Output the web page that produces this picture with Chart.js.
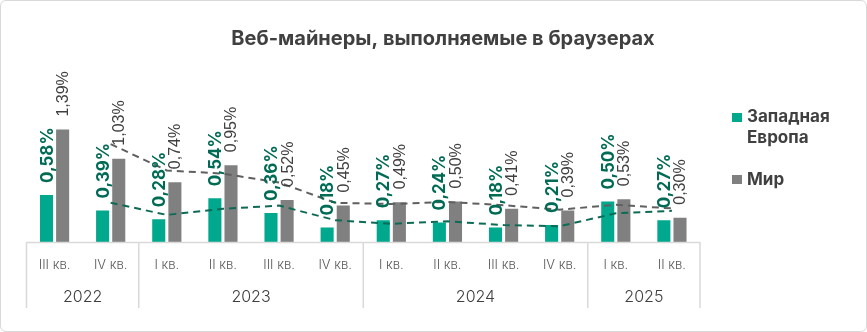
<!DOCTYPE html>
<html>
<head>
<meta charset="utf-8">
<script src="https://cdn.jsdelivr.net/npm/chart.js@4.4.0/dist/chart.umd.min.js"></script>
<style>
    html, body { margin: 0; padding: 0; background: #fff; }
    #frame {
        position: absolute; left: 0; top: 0;
        width: 867px; height: 332px; box-sizing: border-box;
        border: 1.5px solid #d9d9d9; border-radius: 6px;
    }
    #chart { position: absolute; left: 0; top: 0; }
</style>
</head>
<body>
<div id="frame"></div>
<canvas id="chart" width="867" height="332"></canvas>
<script>
// Quarters and the year each one belongs to
const quarters = ['III кв.', 'IV кв.', 'I кв.', 'II кв.', 'III кв.', 'IV кв.', 'I кв.', 'II кв.', 'III кв.', 'IV кв.', 'I кв.', 'II кв.'];
const quarterYears = ['2022', '2022', '2023', '2023', '2023', '2023', '2024', '2024', '2024', '2024', '2025', '2025'];

// Share of web miners, %
const westEurope = [0.58, 0.39, 0.28, 0.54, 0.36, 0.18, 0.27, 0.24, 0.18, 0.21, 0.50, 0.27];
const world = [1.39, 1.03, 0.74, 0.95, 0.52, 0.45, 0.49, 0.50, 0.41, 0.39, 0.53, 0.30];

// Dashed trend lines (2-period moving average)
const westTrend = [null, 0.485, 0.335, 0.41, 0.45, 0.27, 0.225, 0.255, 0.21, 0.195, 0.355, 0.385];
const worldTrend = [null, 1.21, 0.885, 0.845, 0.735, 0.485, 0.47, 0.495, 0.455, 0.40, 0.46, 0.415];

const colors = {
    west: '#00a88e',
    westText: '#006b55',
    world: '#808080',
    worldText: '#404040',
    westLine: '#0d6b55',
    worldLine: '#606060',
    axis: '#d9d9d9',
    text: '#404040',
    tick: '#595959'
};

const fmt = v => v.toFixed(2).replace('.', ',') + '%';

const decorPlugin = {
    id: 'decor',
    afterDatasetsDraw(chart) {
        const ctx = chart.ctx;
        // rotated value labels above the bars
        [[0, 'bold 17px Inter', colors.westText, 12], [1, '16px "Liberation Sans"', colors.worldText, 13]].forEach(([di, font, color, gap]) => {
            const meta = chart.getDatasetMeta(di);
            const values = chart.data.datasets[di].data;
            meta.data.forEach((bar, i) => {
                ctx.save();
                ctx.translate(bar.x, bar.y - gap);
                ctx.rotate(-Math.PI / 2);
                ctx.font = font;
                ctx.fillStyle = color;
                ctx.textAlign = 'left';
                ctx.textBaseline = 'middle';
                ctx.fillText(fmt(values[i]), 0, 1);
                ctx.restore();
            });
        });
    },
    afterDraw(chart) {
        const ctx = chart.ctx;
        const x = chart.scales.x;
        const area = chart.chartArea;
        const half = (x.getPixelForTick(1) - x.getPixelForTick(0)) / 2;

        ctx.save();
        // axis line
        ctx.strokeStyle = colors.axis;
        ctx.lineWidth = 1.5;
        ctx.beginPath();
        ctx.moveTo(area.left, area.bottom + 0.5);
        ctx.lineTo(area.right, area.bottom + 0.5);
        ctx.stroke();

        // year groups: separators and labels
        let start = 0;
        for (let i = 1; i <= quarterYears.length; i++) {
            if (i === quarterYears.length || quarterYears[i] !== quarterYears[start]) {
                const left = x.getPixelForTick(start) - half;
                const right = x.getPixelForTick(i - 1) + half;
                ctx.beginPath();
                ctx.moveTo(left, area.bottom);
                ctx.lineTo(left, 308);
                if (i === quarterYears.length) {
                    ctx.moveTo(right, area.bottom);
                    ctx.lineTo(right, 308);
                }
                ctx.stroke();
                ctx.font = '300 16px Inter';
                ctx.fillStyle = colors.text;
                ctx.textAlign = 'center';
                ctx.textBaseline = 'middle';
                ctx.fillText(quarterYears[start], (left + right) / 2, 297);
                start = i;
            }
        }

        // title
        ctx.font = 'bold 20px Inter';
        ctx.fillStyle = colors.text;
        ctx.textAlign = 'center';
        ctx.textBaseline = 'alphabetic';
        ctx.fillText('Веб-майнеры, выполняемые в браузерах', 443, 45);

        // legend
        ctx.textAlign = 'left';
        ctx.font = 'bold 17px Inter';
        ctx.fillStyle = colors.west;
        ctx.fillRect(732, 113, 10, 9);
        ctx.fillStyle = colors.text;
        ctx.fillText('Западная', 747, 122);
        ctx.fillText('Европа', 747, 143);
        ctx.fillStyle = colors.world;
        ctx.fillRect(732, 175, 10, 9);
        ctx.fillStyle = colors.text;
        ctx.fillText('Мир', 747, 185);
        ctx.restore();
    }
};

new Chart(document.getElementById('chart').getContext('2d'), {
    type: 'bar',
    data: {
        labels: quarters,
        datasets: [
            {
                label: 'Западная Европа',
                data: westEurope,
                backgroundColor: colors.west,
                categoryPercentage: 0.575,
                barPercentage: 0.81,
                order: 1
            },
            {
                label: 'Мир',
                data: world,
                backgroundColor: colors.world,
                categoryPercentage: 0.575,
                barPercentage: 0.81,
                order: 1
            },
            {
                type: 'line',
                label: 'trend west',
                data: westTrend,
                borderColor: colors.westLine,
                borderWidth: 2,
                borderDash: [7, 5],
                pointRadius: 0,
                tension: 0,
                fill: false,
                order: 0
            },
            {
                type: 'line',
                label: 'trend world',
                data: worldTrend,
                borderColor: colors.worldLine,
                borderWidth: 2,
                borderDash: [7, 5],
                pointRadius: 0,
                tension: 0,
                fill: false,
                order: 0
            }
        ]
    },
    options: {
        responsive: false,
        animation: false,
        layout: {
            padding: { left: 26.5, right: 167, top: 60, bottom: 0 }
        },
        plugins: {
            legend: { display: false },
            title: { display: false },
            tooltip: { enabled: false }
        },
        scales: {
            x: {
                grid: { display: false, drawTicks: false },
                border: { display: false },
                ticks: {
                    font: { family: 'Inter', size: 13, weight: 300 },
                    color: colors.tick,
                    padding: 15,
                    maxRotation: 0,
                    autoSkip: false
                },
                afterFit(scale) { scale.height = 90; }
            },
            y: {
                display: false,
                min: 0,
                max: 2.25
            }
        }
    },
    plugins: [decorPlugin]
});
</script>
</body>
</html>
